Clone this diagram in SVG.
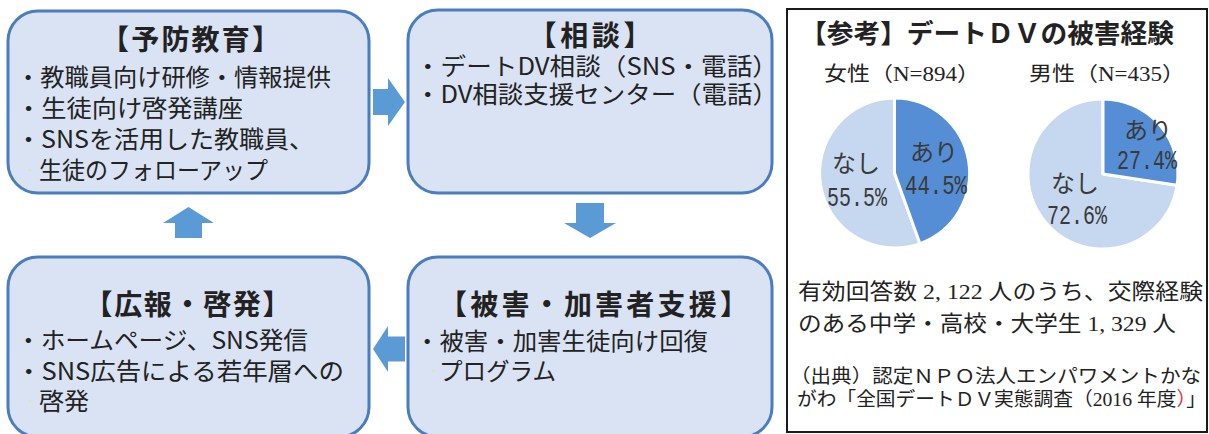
<svg xmlns="http://www.w3.org/2000/svg" width="1209" height="434" viewBox="0 0 1209 434">
<style>
.box{fill:#dae3f3;stroke:#4a7cc0;stroke-width:3}
.arr{fill:#5b9bd5}
.t{font-family:"Noto Sans CJK JP","Noto Sans",sans-serif;fill:#222}
.h{font-size:28px;font-weight:bold;text-anchor:middle}
.b{font-size:24px}
.dot{fill:#d4e8c2}
.pt{font-family:"Noto Sans CJK JP",sans-serif;fill:#3a3a3a;font-size:24px;text-anchor:middle}
.pn{font-family:"Liberation Mono","DejaVu Sans Mono","Noto Sans CJK JP",monospace;fill:#3a3a3a;font-size:27px}
.s{font-family:"Liberation Serif","Noto Sans CJK JP",serif;fill:#222}
</style>
<rect width="1209" height="434" fill="#ffffff"/>
<g id="connectors">
<polygon class="arr" points="373,89 388,89 388,78 405,102 388,126 388,115 373,115"/>
<polygon class="arr" points="576,203 604,203 604,223 616,223 590,238 564,223 576,223"/>
<polygon class="arr" points="405,336.5 388,336.5 388,326 373,349 388,372 388,361.5 405,361.5"/>
<polygon class="arr" points="175,238 202,238 202,223 214,223 188.5,207 163,223 175,223"/>
</g>
<g id="node-yobo">
<rect class="box" x="8" y="11" width="361" height="182" rx="30"/>
<text class="t h" x="190.5" y="50" textLength="179" lengthAdjust="spacing">【予防教育】</text>
<text class="t b" x="16" y="86" textLength="315" lengthAdjust="spacingAndGlyphs">・教職員向け研修・情報提供</text>
<text class="t b" x="16" y="117" textLength="227" lengthAdjust="spacingAndGlyphs">・生徒向け啓発講座</text>
<text class="t b" x="16" y="148" textLength="298" lengthAdjust="spacingAndGlyphs">・SNSを活用した教職員、</text>
<circle class="dot" cx="30" cy="170" r="1.6"/>
<text class="t b" x="39" y="179" textLength="229" lengthAdjust="spacingAndGlyphs">生徒のフォローアップ</text>
</g>
<g id="node-sodan">
<rect class="box" x="408" y="10" width="364" height="183" rx="30"/>
<text class="t h" x="590" y="46" textLength="123" lengthAdjust="spacing">【相談】</text>
<text class="t b" x="415" y="75" textLength="363" lengthAdjust="spacingAndGlyphs">・デートDV相談（SNS・電話）</text>
<text class="t b" x="415" y="103" textLength="363" lengthAdjust="spacingAndGlyphs">・DV相談支援センター（電話）</text>
</g>
<g id="node-koho">
<rect class="box" x="8" y="257" width="361" height="180" rx="30"/>
<text class="t h" x="187.5" y="315" textLength="206" lengthAdjust="spacing">【広報・啓発】</text>
<text class="t b" x="16" y="349" textLength="292" lengthAdjust="spacingAndGlyphs">・ホームページ、SNS発信</text>
<text class="t b" x="16" y="380" textLength="328" lengthAdjust="spacingAndGlyphs">・SNS広告による若年層への</text>
<circle class="dot" cx="30" cy="401" r="1.6"/>
<text class="t b" x="39" y="410" textLength="50" lengthAdjust="spacingAndGlyphs">啓発</text>
</g>
<g id="node-shien">
<rect class="box" x="408" y="257" width="364" height="180" rx="30"/>
<text class="t h" x="593.5" y="315" textLength="309" lengthAdjust="spacing">【被害・加害者支援】</text>
<text class="t b" x="415" y="350" textLength="293" lengthAdjust="spacingAndGlyphs">・被害・加害生徒向け回復</text>
<circle class="dot" cx="433" cy="371" r="1.6"/>
<text class="t b" x="439" y="380" textLength="117" lengthAdjust="spacingAndGlyphs">プログラム</text>
</g>
<g id="node-sanko">
<rect x="787" y="9" width="420" height="423" fill="#ffffff" stroke="#1a1a1a" stroke-width="2"/>
<text class="t" x="800" y="43" font-size="26" font-weight="bold" fill="#111" textLength="374" lengthAdjust="spacingAndGlyphs">【参考】デートＤＶの被害経験</text>
<text class="s" x="824" y="81" font-size="20" textLength="156" lengthAdjust="spacingAndGlyphs">女性（N=894）</text>
<text class="s" x="1029" y="81" font-size="20" textLength="156" lengthAdjust="spacingAndGlyphs">男性（N=435）</text>
<g stroke="#ffffff" stroke-width="3" stroke-linejoin="round">
<path d="M894.5,173 L919.9,243.6 A75,75 0 1 1 894.5,98 Z" fill="#c6d8ef"/>
<path d="M894.5,173 L894.5,98 A75,75 0 0 1 919.9,243.6 Z" fill="#558ed5"/>
<path d="M1103,174 L1177.1,185.3 A75,75 0 1 1 1103,99 Z" fill="#c6d8ef"/>
<path d="M1103,174 L1103,99 A75,75 0 0 1 1177.1,185.3 Z" fill="#558ed5"/>
</g>
<text class="pt" x="934" y="161">あり</text>
<text class="pn" x="905" y="194" textLength="62" lengthAdjust="spacingAndGlyphs">44.5%</text>
<text class="pt" x="856" y="172">なし</text>
<text class="pn" x="827" y="206" textLength="60" lengthAdjust="spacingAndGlyphs">55.5%</text>
<text class="pt" x="1148" y="139">あり</text>
<text class="pn" x="1117" y="169" textLength="60" lengthAdjust="spacingAndGlyphs">27.4%</text>
<text class="pt" x="1075" y="192">なし</text>
<text class="pn" x="1047" y="224" textLength="60" lengthAdjust="spacingAndGlyphs">72.6%</text>
<text class="s" x="798" y="299" font-size="22" textLength="405" lengthAdjust="spacingAndGlyphs">有効回答数 2, 122 人のうち、交際経験</text>
<text class="s" x="798" y="331" font-size="22" textLength="378" lengthAdjust="spacingAndGlyphs">のある中学・高校・大学生 1, 329 人</text>
<text class="s" x="790" y="383" font-size="19" textLength="411" lengthAdjust="spacingAndGlyphs">（出典）認定ＮＰＯ法人エンパワメントかな</text>
<text class="s" x="797" y="406" font-size="19" textLength="409" lengthAdjust="spacingAndGlyphs">がわ「全国デートＤＶ実態調査（2016 年度<tspan fill="#e03030">）</tspan>」</text>
</g>
</svg>
